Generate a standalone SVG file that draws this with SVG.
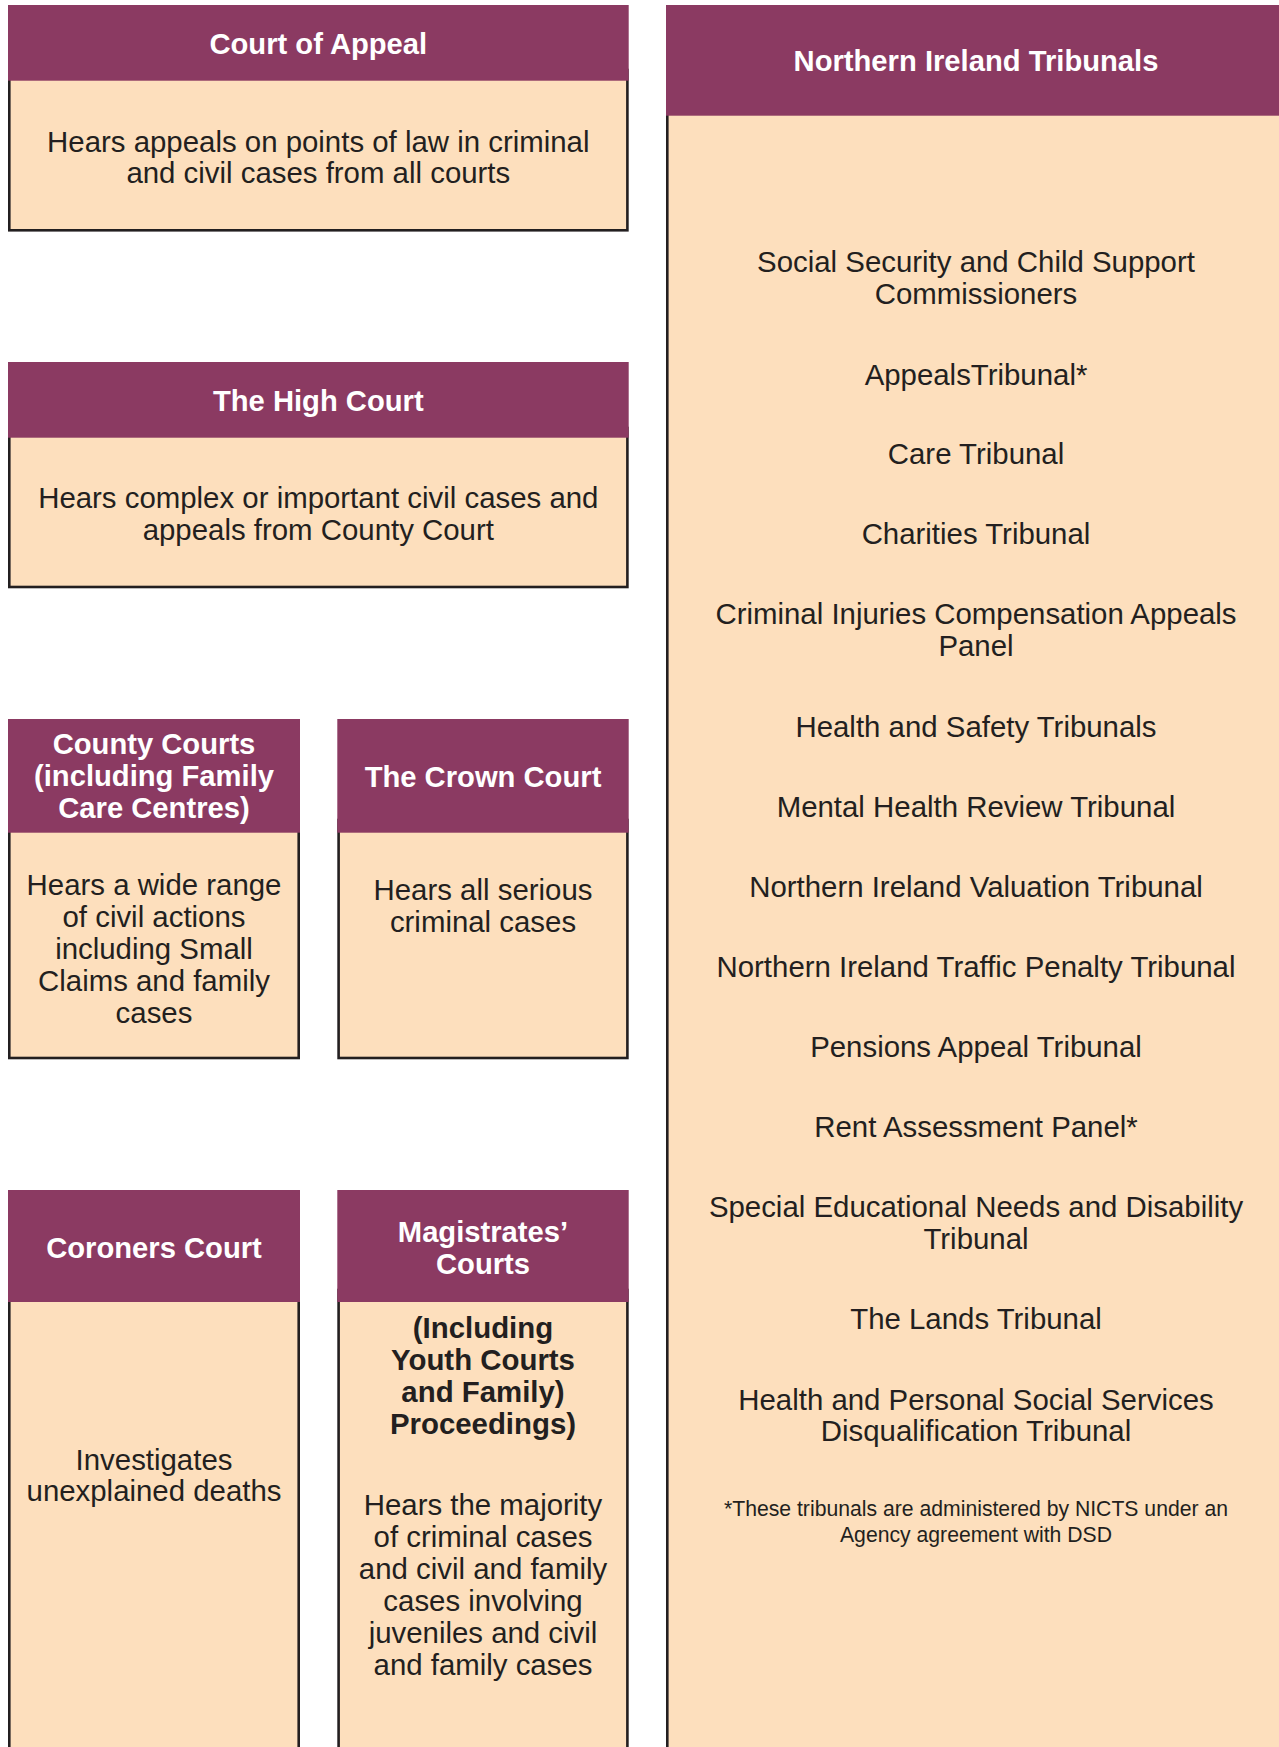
<svg xmlns="http://www.w3.org/2000/svg" width="1279" height="1747" viewBox="0 0 1279 1747">
  <style>
    .head { fill: #8B3A62; }
    .body { fill: #FDDFBD; stroke: #231F20; stroke-width: 2.6; }
    .title { font-family: "Liberation Sans", Arial, sans-serif; font-weight: bold; font-size: 29.2px; fill: #FFFFFF; text-anchor: middle; }
    .txt { font-family: "Liberation Sans", Arial, sans-serif; font-size: 29.4px; fill: #231F20; text-anchor: middle; }
    .bold { font-weight: bold; }
    .note { font-family: "Liberation Sans", Arial, sans-serif; font-size: 21.2px; fill: #231F20; text-anchor: middle; }
  </style>
  <rect width="1279" height="1747" fill="#FFFFFF"/>

  <g id="connectors"></g>

  <g id="court-of-appeal">
    <rect class="body" x="9.3" y="70" width="618.1" height="160.3"/>
    <rect class="head" x="8" y="5" width="620.7" height="75.7"/>
    <text class="title" x="318.3" y="53.5">Court of Appeal</text>
    <text class="txt" x="318.3" y="151.5">Hears appeals on points of law in criminal</text>
    <text class="txt" x="318.3" y="183">and civil cases from all courts</text>
  </g>

  <g id="high-court">
    <rect class="body" x="9.3" y="428" width="618.1" height="159"/>
    <rect class="head" x="8" y="362" width="620.7" height="75.7"/>
    <text class="title" x="318.3" y="411">The High Court</text>
    <text class="txt" x="318.3" y="508">Hears complex or important civil cases and</text>
    <text class="txt" x="318.3" y="540">appeals from County Court</text>
  </g>

  <g id="county-courts">
    <rect class="body" x="9.3" y="820" width="289.4" height="238"/>
    <rect class="head" x="8" y="719" width="292" height="113.7"/>
    <text class="title" x="154" y="754">County Courts</text>
    <text class="title" x="154" y="786">(including Family</text>
    <text class="title" x="154" y="818">Care Centres)</text>
    <text class="txt" x="154" y="894.5">Hears a wide range</text>
    <text class="txt" x="154" y="926.5">of civil actions</text>
    <text class="txt" x="154" y="958.5">including Small</text>
    <text class="txt" x="154" y="990.5">Claims and family</text>
    <text class="txt" x="154" y="1022.5">cases</text>
  </g>

  <g id="crown-court">
    <rect class="body" x="338.6" y="820" width="288.8" height="238"/>
    <rect class="head" x="337.3" y="719" width="291.4" height="113.7"/>
    <text class="title" x="483" y="786.5">The Crown Court</text>
    <text class="txt" x="483" y="900">Hears all serious</text>
    <text class="txt" x="483" y="931.5">criminal cases</text>
  </g>

  <g id="coroners-court">
    <rect class="body" x="9.3" y="1290" width="289.4" height="470"/>
    <rect class="head" x="8" y="1190" width="292" height="112"/>
    <text class="title" x="154" y="1258">Coroners Court</text>
    <text class="txt" x="154" y="1469.5">Investigates</text>
    <text class="txt" x="154" y="1500.5">unexplained deaths</text>
  </g>

  <g id="magistrates-courts">
    <rect class="body" x="338.6" y="1290" width="288.8" height="470"/>
    <rect class="head" x="337.3" y="1190" width="291.4" height="112"/>
    <text class="title" x="483" y="1242">Magistrates’</text>
    <text class="title" x="483" y="1273.5">Courts</text>
    <text class="txt bold" x="483" y="1338">(Including</text>
    <text class="txt bold" x="483" y="1370">Youth Courts</text>
    <text class="txt bold" x="483" y="1401.5">and Family)</text>
    <text class="txt bold" x="483" y="1433.5">Proceedings)</text>
    <text class="txt" x="483" y="1515">Hears the majority</text>
    <text class="txt" x="483" y="1547">of criminal cases</text>
    <text class="txt" x="483" y="1579">and civil and family</text>
    <text class="txt" x="483" y="1611">cases involving</text>
    <text class="txt" x="483" y="1643">juveniles and civil</text>
    <text class="txt" x="483" y="1674.5">and family cases</text>
  </g>

  <g id="ni-tribunals">
    <rect class="body" x="667.3" y="100" width="640" height="1700"/>
    <rect class="head" x="666" y="5" width="613" height="110.7"/>
    <text class="title" x="976" y="71">Northern Ireland Tribunals</text>
    <text class="txt" x="976" y="272">Social Security and Child Support</text>
    <text class="txt" x="976" y="304">Commissioners</text>
    <text class="txt" x="976" y="384.5">AppealsTribunal*</text>
    <text class="txt" x="976" y="463.5">Care Tribunal</text>
    <text class="txt" x="976" y="543.5">Charities Tribunal</text>
    <text class="txt" x="976" y="624">Criminal Injuries Compensation Appeals</text>
    <text class="txt" x="976" y="656">Panel</text>
    <text class="txt" x="976" y="736.5">Health and Safety Tribunals</text>
    <text class="txt" x="976" y="816.5">Mental Health Review Tribunal</text>
    <text class="txt" x="976" y="897">Northern Ireland Valuation Tribunal</text>
    <text class="txt" x="976" y="977">Northern Ireland Traffic Penalty Tribunal</text>
    <text class="txt" x="976" y="1057">Pensions Appeal Tribunal</text>
    <text class="txt" x="976" y="1136.5">Rent Assessment Panel*</text>
    <text class="txt" x="976" y="1216.5">Special Educational Needs and Disability</text>
    <text class="txt" x="976" y="1249">Tribunal</text>
    <text class="txt" x="976" y="1329">The Lands Tribunal</text>
    <text class="txt" x="976" y="1409.5">Health and Personal Social Services</text>
    <text class="txt" x="976" y="1441">Disqualification Tribunal</text>
    <text class="note" x="976" y="1516">*These tribunals are administered by NICTS under an</text>
    <text class="note" x="976" y="1541.5">Agency agreement with DSD</text>
  </g>
</svg>
